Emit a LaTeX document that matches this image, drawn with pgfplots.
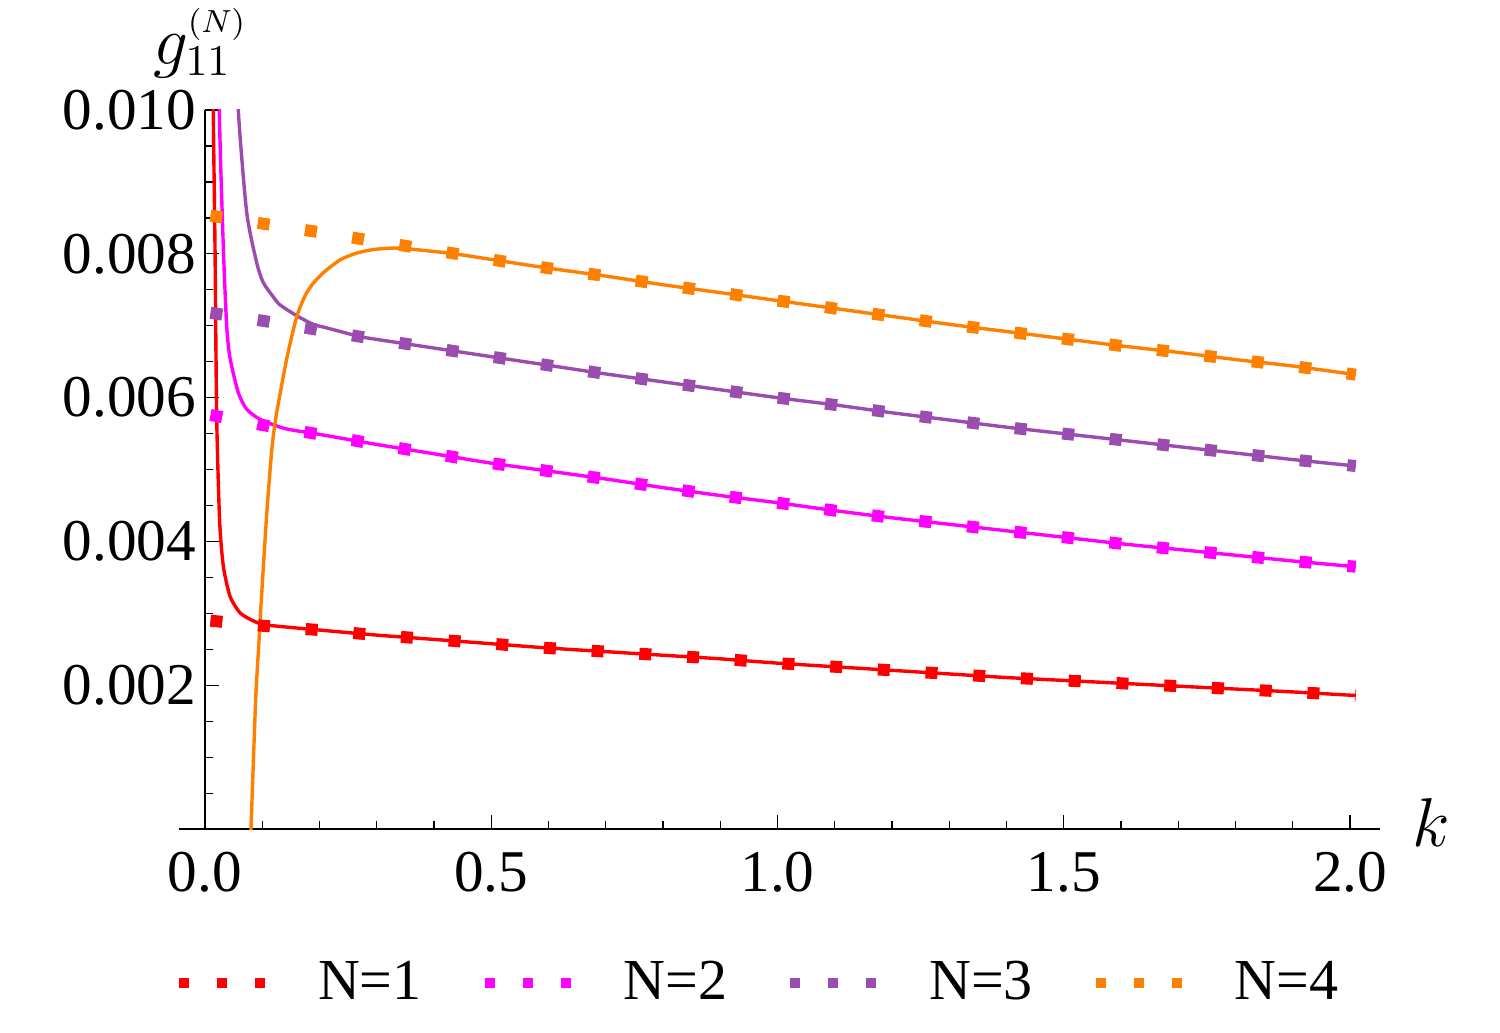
\documentclass[border=0pt]{standalone}
\usepackage{fontspec}
\setmainfont{Liberation Serif}
\DeclareMathSizes{18}{18}{11}{8.5}
\usepackage{pgfplots}
\pgfplotsset{compat=1.18}
\definecolor{cRed}{RGB}{255,0,0}
\definecolor{cMag}{RGB}{255,0,255}
\definecolor{cPur}{RGB}{155,77,175}
\definecolor{cOra}{RGB}{255,128,0}
\tikzset{dotsty/.style={line width=3pt, dash pattern=on 3pt off 8.95pt, line cap=butt},
solsty/.style={line width=0.85pt}}
\begin{document}
\begin{tikzpicture}
\begin{axis}[
  scale only axis, width=300.25pt, height=179.85pt,
  xmin=-0.0454, xmax=2.0524, ymin=0, ymax=0.010,
  axis lines=middle,
  axis line style={-, line width=0.45pt, black},
  every inner x axis line/.append style={-},
  every inner y axis line/.append style={-},
  hide obscured x ticks=false, hide obscured y ticks=false,
  xtick={0,0.5,1,1.5,2}, xticklabels={0.0,0.5,1.0,1.5,2.0},
  ytick={0,0.002,0.004,0.006,0.008,0.01}, yticklabels={,0.002,0.004,0.006,0.008,0.010},
  scaled y ticks=false,
  minor x tick num=4, minor y tick num=3,
  tick align=inside,
  major tick length=3.5pt, minor tick length=2pt,
  tick style={black, line width=0.35pt},
  tick label style={font=\fontsize{14.8}{17}\selectfont},
  xticklabel style={anchor=north, inner sep=0pt, yshift=-5.6pt},
  yticklabel style={anchor=east, inner sep=0pt, xshift=-2pt},
  xlabel={$k$},
  ylabel={$g_{11}^{\scriptscriptstyle(N)}$},
  xlabel style={at={(rel axis cs:1,0)}, anchor=west, inner sep=0pt, xshift=8pt, yshift=1.75pt, font=\fontsize{18}{20}\selectfont},
  ylabel style={at={(rel axis cs:0.0175,1)}, anchor=south, inner sep=0pt, yshift=7.8pt, font=\fontsize{18}{20}\selectfont},
  legend columns=4,
  legend style={draw=none, fill=none, at={(rel axis cs:0.484,-0.214)}, anchor=center, font=\fontsize{14.5}{17}\selectfont, /tikz/every even column/.append style={column sep=12.5pt}},
  legend image code/.code={
    \draw[#1, line width=2.5pt, dash pattern=on 2.5pt off 7pt, line cap=butt] (-1.25pt,0pt) -- (20.3pt,0pt);
    \path[draw=none, fill=none] (-1.25pt,0pt) -- (31.5pt,0pt);
  },
]
% solid curves
\addplot[cRed, solsty, smooth, tension=0.4, forget plot] coordinates {
(0.0125,0.0125) (0.0145,0.0100) (0.0175,0.0081) (0.0204,0.00575) (0.0255,0.0043) (0.032,0.00366) (0.0437,0.00324) (0.0611,0.00301) (0.0838,0.0029) (0.1078,0.00284) (0.2,0.00277) (0.3,0.00270) (0.4,0.00264) (0.5,0.00258) (0.6,0.00252) (0.7,0.00247) (0.8,0.00242) (0.9,0.00237) (1.0,0.00231) (1.1,0.00226) (1.2,0.00221) (1.3,0.00216) (1.4,0.00211) (1.5,0.00207) (1.6,0.00203) (1.7,0.00199) (1.8,0.00195) (1.9,0.00191) (2.01,0.00186)};
\addplot[cMag, solsty, smooth, tension=0.4, forget plot] coordinates {
(0.0225,0.0125) (0.025,0.0100) (0.032,0.0081) (0.0379,0.0070) (0.0437,0.00655) (0.0582,0.00607) (0.0728,0.00584) (0.096,0.0057) (0.14,0.00557) (0.2,0.00549) (0.3,0.00535) (0.4,0.00522) (0.5,0.00509) (0.6,0.00498) (0.7,0.00487) (0.8,0.00475) (0.9,0.00464) (1.0,0.00454) (1.1,0.00443) (1.2,0.00433) (1.3,0.00424) (1.4,0.00415) (1.5,0.00406) (1.6,0.00397) (1.7,0.00389) (1.8,0.00381) (1.9,0.00373) (2.01,0.00365)};
\addplot[cPur, solsty, smooth, tension=0.4, forget plot] coordinates {
(0.055,0.0113) (0.0582,0.0100) (0.0728,0.00858) (0.0902,0.00788) (0.1018,0.0076) (0.1194,0.0074) (0.131,0.00729) (0.160,0.00714) (0.189,0.00702) (0.2125,0.00697) (0.27,0.00685) (0.3,0.00681) (0.4,0.00669) (0.5,0.00657) (0.6,0.00645) (0.7,0.00633) (0.8,0.00622) (0.9,0.00611) (1.0,0.00600) (1.1,0.00590) (1.2,0.00579) (1.3,0.00569) (1.4,0.00559) (1.5,0.00550) (1.6,0.00541) (1.7,0.00532) (1.8,0.00523) (1.9,0.00514) (2.01,0.00505)};
\addplot[cOra, solsty, smooth, tension=0.4, forget plot] coordinates {
(0.0765,-0.0008) (0.0803,0.0) (0.0885,0.0018) (0.0935,0.0025) (0.0985,0.0032) (0.108,0.0044) (0.117,0.0053) (0.125,0.00578) (0.143,0.00655) (0.160,0.00712) (0.175,0.00742) (0.19,0.0076) (0.21,0.00776) (0.237,0.00792) (0.265,0.00801) (0.295,0.00806) (0.33,0.00808) (0.354,0.00807) (0.39,0.00804) (0.4356,0.0080) (0.5175,0.0079) (0.6,0.00780) (0.7,0.00769) (0.8,0.00757) (0.9,0.00746) (1.0,0.00735) (1.1,0.00724) (1.2,0.00713) (1.3,0.00702) (1.4,0.00692) (1.5,0.00682) (1.6,0.00672) (1.7,0.00663) (1.8,0.00653) (1.9,0.00644) (2.01,0.00632)};
% dotted approximations
\addplot[cRed, dotsty] coordinates {
(0.0095,0.0029) (0.1,0.00283) (0.2,0.00277) (0.3,0.00270) (0.4,0.00264) (0.5,0.00258) (0.6,0.00252) (0.7,0.00247) (0.8,0.00242) (0.9,0.00237) (1.0,0.00231) (1.1,0.00226) (1.2,0.00221) (1.3,0.00216) (1.4,0.00211) (1.5,0.00207) (1.6,0.00203) (1.7,0.00199) (1.8,0.00195) (1.9,0.00191) (2.01,0.00186)};
\addlegendentry{N=1}
\addplot[cMag, dotsty] coordinates {
(0.0095,0.00576) (0.1,0.00562) (0.2,0.00549) (0.3,0.00535) (0.4,0.00522) (0.5,0.00509) (0.6,0.00498) (0.7,0.00487) (0.8,0.00475) (0.9,0.00464) (1.0,0.00454) (1.1,0.00443) (1.2,0.00433) (1.3,0.00424) (1.4,0.00415) (1.5,0.00406) (1.6,0.00397) (1.7,0.00389) (1.8,0.00381) (1.9,0.00373) (2.01,0.00365)};
\addlegendentry{N=2}
\addplot[cPur, dotsty] coordinates {
(0.0095,0.00718) (0.1,0.00707) (0.2,0.00694) (0.3,0.00681) (0.4,0.00669) (0.5,0.00657) (0.6,0.00645) (0.7,0.00633) (0.8,0.00622) (0.9,0.00611) (1.0,0.00600) (1.1,0.00590) (1.2,0.00579) (1.3,0.00569) (1.4,0.00559) (1.5,0.00550) (1.6,0.00541) (1.7,0.00532) (1.8,0.00523) (1.9,0.00514) (2.01,0.00505)};
\addlegendentry{N=3}
\addplot[cOra, dotsty] coordinates {
(0.0095,0.00853) (0.1,0.00842) (0.2,0.00830) (0.3,0.00817) (0.4,0.00805) (0.5,0.00792) (0.6,0.00780) (0.7,0.00769) (0.8,0.00757) (0.9,0.00746) (1.0,0.00735) (1.1,0.00724) (1.2,0.00713) (1.3,0.00702) (1.4,0.00692) (1.5,0.00682) (1.6,0.00672) (1.7,0.00663) (1.8,0.00653) (1.9,0.00644) (2.01,0.00632)};
\addlegendentry{N=4}
\coordinate (BL) at (rel axis cs:-0.14904,-0.28194);
\coordinate (TR) at (rel axis cs:1.09992,1.15278);
\end{axis}
\path (BL) rectangle (TR);
\end{tikzpicture}
\end{document}
